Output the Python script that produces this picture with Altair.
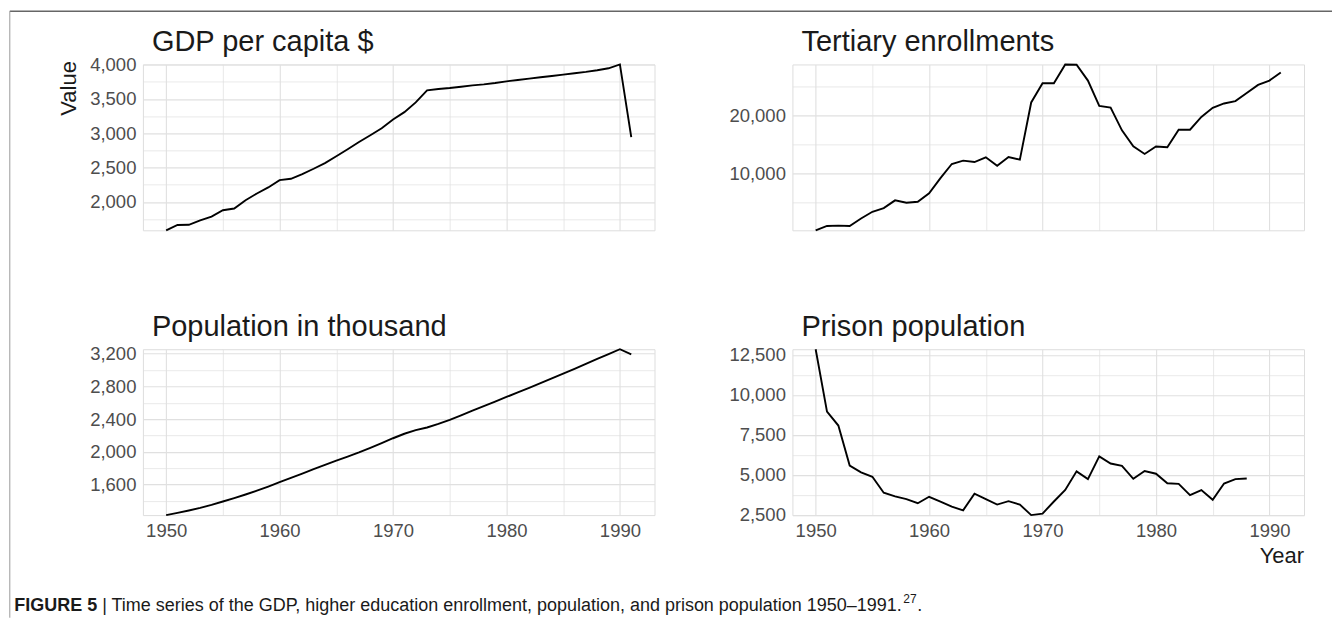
import json
import altair as alt
import pandas as pd

# ---------------- data ----------------
years = list(range(1950, 1992))
gdp = [1588, 1666, 1668, 1734, 1788, 1880, 1905, 2026, 2124, 2212,
       2319, 2338, 2406, 2484, 2567, 2665, 2767, 2874, 2972, 3074,
       3200, 3308, 3449, 3625, 3644, 3659, 3678, 3698, 3712, 3732,
       3756, 3776, 3795, 3815, 3834, 3854, 3873, 3893, 3917, 3946,
       4002, 2943]
tertiary = [202, 955, 1013, 955, 2230, 3389, 4025, 5358, 4953, 5127,
            6575, 9183, 11616, 12195, 11964, 12775, 11326, 12833, 12369, 22219,
            25521, 25521, 28766, 28708, 25985, 21640, 21350, 17410, 14687, 13354,
            14629, 14513, 17526, 17526, 19727, 21292, 22045, 22451, 23841, 25232,
            25985, 27376]
population = [1225, 1252, 1281, 1313, 1350, 1391, 1433, 1477, 1524, 1574,
              1627, 1680, 1733, 1786, 1838, 1890, 1940, 1992, 2048, 2106,
              2165, 2220, 2264, 2297, 2340, 2390, 2446, 2502, 2558, 2614,
              2670, 2725, 2781, 2838, 2896, 2955, 3015, 3075, 3135, 3195,
              3254, 3192]
prison_years = list(range(1950, 1989))
prison = [12861, 8955, 8084, 5579, 5154, 4878, 3881, 3647, 3477, 3223,
          3626, 3329, 3010, 2777, 3817, 3477, 3138, 3350, 3138, 2480,
          2575, 3329, 4050, 5218, 4730, 6152, 5706, 5558, 4751, 5239,
          5070, 4475, 4433, 3732, 4050, 3435, 4454, 4730, 4772]

titles = ["GDP per capita $", "Tertiary enrollments", "Population in thousand", "Prison population"]
x_grid = [1950, 1955, 1960, 1965, 1970, 1975, 1980, 1985, 1990]
gdp_major = [2000, 2500, 3000, 3500, 4000]
gdp_minor = [1750, 2250, 2750, 3250, 3750]
ter_major = [10000, 20000]
ter_minor = [5000, 15000, 25000]
pop_major = [1600, 2000, 2400, 2800, 3200]
pop_minor = [1400, 1800, 2200, 2600, 3000]
pri_major = [2500, 5000, 7500, 10000, 12500]
pri_minor = [3750, 6250, 8750, 11250]

caption_bold = "FIGURE 5"
caption_text = "| Time series of the GDP, higher education enrollment, population, and prison population 1950\u20131991."
caption_sup = "27"

# ---------------- style ----------------
W, H = 512, 166
FONT = "Liberation Sans, Arial, sans-serif"
GRID = "#E0E0E0"
LABEL = "#4D4D4D"
span = max(years) - min(years)
xdom = [min(years) - 0.05 * span, max(years) + 0.05 * span]


def panel(yrs, vals, title, majors, minors, show_x, extra=()):
    df = pd.DataFrame({"Year": yrs, "Value": vals})
    yvals = sorted(majors + minors)
    ylab = "indexof(" + json.dumps(majors) + ", datum.value) >= 0 ? format(datum.value, ',') : ''"
    gw = {"condition": {"test": "indexof(" + json.dumps(majors) + ", datum.value) >= 0", "value": 1.1},
          "value": 0.7}
    y_axis = alt.Axis(values=yvals, labelExpr=ylab, title=None, grid=True, gridColor=GRID,
                      gridWidth=gw, ticks=False, domain=False, labelFontSize=18.5,
                      labelColor=LABEL, labelFont=FONT, labelPadding=7)
    xgw = {"condition": {"test": "datum.value % 10 == 0", "value": 1.1}, "value": 0.7}
    if show_x:
        x_axis = alt.Axis(values=x_grid, labelExpr="datum.value % 10 == 0 ? '' + datum.value : ''",
                          title=None, grid=True, gridColor=GRID, gridWidth=xgw, ticks=False,
                          domain=False, labelFontSize=18.5, labelColor=LABEL, labelFont=FONT,
                          labelPadding=6)
    else:
        x_axis = alt.Axis(values=x_grid, labels=False, title=None, grid=True, gridColor=GRID,
                          gridWidth=xgw, ticks=False, domain=False)
    line = alt.Chart(df).mark_line(color="black", strokeWidth=1.9).encode(
        x=alt.X("Year:Q", scale=alt.Scale(domain=xdom, nice=False, zero=False), axis=x_axis),
        y=alt.Y("Value:Q", scale=alt.Scale(domain=[min(vals), max(vals)], nice=False, zero=False),
                axis=y_axis),
    )
    ttl = alt.Chart(alt.Data(values=[{"t": title}])).mark_text(
        align="left", baseline="alphabetic", fontSize=29, font=FONT, color="#1A1A1A"
    ).encode(text="t:N", x=alt.value(9), y=alt.value(-13))
    return alt.layer(line, ttl, *extra).properties(width=W, height=H)


one = alt.Data(values=[{"a": 1}])

value_title = alt.Chart(alt.Data(values=[{"t": "Value"}])).mark_text(
    angle=270, align="center", baseline="middle", fontSize=22, font=FONT, color="#1A1A1A"
).encode(text="t:N", x=alt.value(-73.7), y=alt.value(24))

top_border = alt.Chart(one).mark_rule(color="#666666", strokeWidth=1.5).encode(
    x=alt.value(-133.2), x2=alt.value(1190), y=alt.value(-53.3))
left_border = alt.Chart(one).mark_rule(color="#9A9A9A", strokeWidth=1).encode(
    x=alt.value(-133.2), y=alt.value(-53.3), y2=alt.value(553.7))

year_title = alt.Chart(alt.Data(values=[{"t": "Year"}])).mark_text(
    align="right", baseline="middle", fontSize=22, font=FONT, color="#1A1A1A"
).encode(text="t:N", x=alt.value(512), y=alt.value(206.7))

CAP_Y = 262
cap_b = alt.Chart(alt.Data(values=[{"t": caption_bold}])).mark_text(
    align="left", baseline="alphabetic", fontSize=18, font=FONT, fontWeight="bold", color="#1A1A1A"
).encode(text="t:N", x=alt.value(-128.7), y=alt.value(CAP_Y))
cap_t = alt.Chart(alt.Data(values=[{"t": caption_text}])).mark_text(
    align="left", baseline="alphabetic", fontSize=18, font=FONT, color="#1A1A1A"
).encode(text="t:N", x=alt.value(-40.7), y=alt.value(CAP_Y))
cap_s = alt.Chart(alt.Data(values=[{"t": caption_sup}])).mark_text(
    align="left", baseline="alphabetic", fontSize=12, font=FONT, color="#1A1A1A"
).encode(text="t:N", x=alt.value(761), y=alt.value(CAP_Y - 8))
cap_d = alt.Chart(alt.Data(values=[{"t": "."}])).mark_text(
    align="left", baseline="alphabetic", fontSize=18, font=FONT, color="#1A1A1A"
).encode(text="t:N", x=alt.value(775), y=alt.value(CAP_Y))

A = panel(years, gdp, titles[0], gdp_major, gdp_minor, False,
          extra=(value_title, top_border, left_border))
B = panel(years, tertiary, titles[1], ter_major, ter_minor, False)
C = panel(years, population, titles[2], pop_major, pop_minor, True,
          extra=(cap_b, cap_t, cap_s, cap_d))
D = panel(prison_years, prison, titles[3], pri_major, pri_minor, True, extra=(year_title,))

chart = alt.concat(A, B, C, D, columns=2, spacing={"row": 119, "column": 138},
                   bounds="flush", align="all").properties(
    padding={"left": 0, "top": 1.25, "right": 0, "bottom": 0}
).configure_view(stroke=None).configure(background="white")

chart.save("out.html", embed_options={"renderer": "svg", "actions": False})
